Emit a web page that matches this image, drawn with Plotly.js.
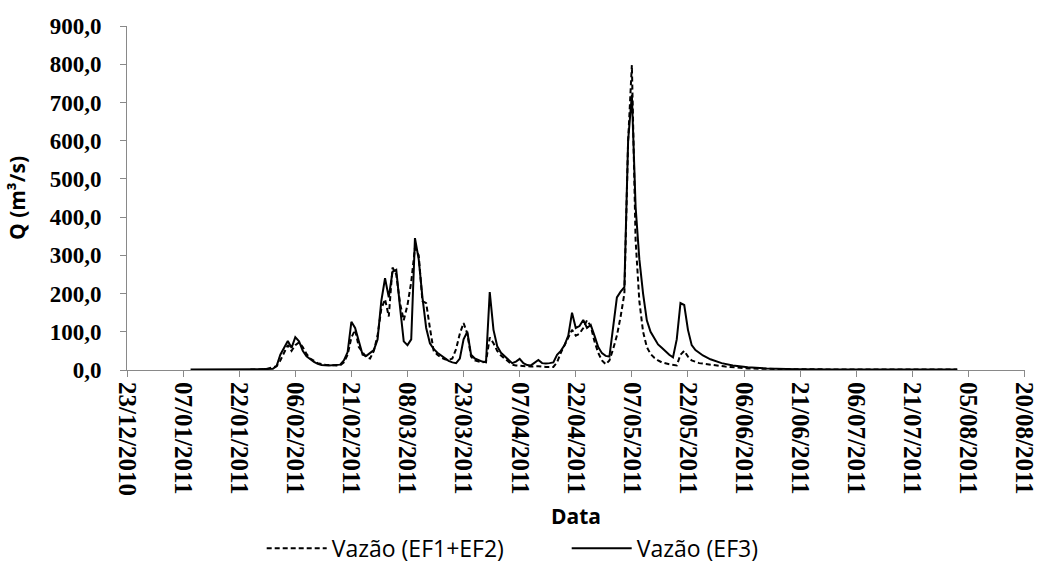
<!DOCTYPE html>
<html>
<head>
<meta charset="utf-8">
<script src="https://cdn.plot.ly/plotly-3.0.1.min.js"></script>
<style>html,body{margin:0;padding:0;background:#fff;}#chart{width:1039px;height:574px;}</style>
</head>
<body>
<div id="chart"></div>
<script>
// EF1+EF2 (dashed)
const datesA = ['2011-01-25','2011-01-29','2011-02-01','2011-02-02','2011-02-03','2011-02-04','2011-02-05','2011-02-06','2011-02-07','2011-02-08','2011-02-09','2011-02-10','2011-02-12','2011-02-14','2011-02-17','2011-02-18','2011-02-19','2011-02-20','2011-02-21','2011-02-22','2011-02-23','2011-02-24','2011-02-25','2011-02-26','2011-02-27','2011-02-28','2011-03-01','2011-03-02','2011-03-03','2011-03-04','2011-03-05','2011-03-06','2011-03-07','2011-03-08','2011-03-09','2011-03-10','2011-03-11','2011-03-12','2011-03-13','2011-03-14','2011-03-15','2011-03-16','2011-03-17','2011-03-18','2011-03-19','2011-03-20','2011-03-21','2011-03-22','2011-03-23','2011-03-24','2011-03-25','2011-03-26','2011-03-27','2011-03-28','2011-03-29','2011-03-30','2011-03-31','2011-04-01','2011-04-02','2011-04-03','2011-04-04','2011-04-05','2011-04-06','2011-04-07','2011-04-08','2011-04-09','2011-04-10','2011-04-12','2011-04-14','2011-04-16','2011-04-17','2011-04-18','2011-04-19','2011-04-20','2011-04-21','2011-04-22','2011-04-23','2011-04-24','2011-04-25','2011-04-26','2011-04-27','2011-04-28','2011-04-29','2011-04-30','2011-05-01','2011-05-02','2011-05-03','2011-05-04','2011-05-05','2011-05-06','2011-05-07','2011-05-08','2011-05-09','2011-05-10','2011-05-11','2011-05-12','2011-05-13','2011-05-14','2011-05-15','2011-05-17','2011-05-19','2011-05-20','2011-05-21','2011-05-22','2011-05-23','2011-05-25','2011-05-28','2011-06-01','2011-06-07','2011-06-20','2011-07-10','2011-08-02'];
const valuesA = [1,2,10,25,45,65,50,65,72,60,42,30,18,14,12,12,20,40,85,105,60,45,33,30,50,90,160,185,140,268,250,175,130,170,230,320,300,180,175,110,50,40,32,28,26,30,55,95,123,95,35,25,22,20,22,85,70,50,38,30,20,14,12,11,10,10,9,10,8,8,20,45,65,85,105,90,95,110,130,115,75,45,25,15,25,55,90,140,200,600,798,340,180,100,60,42,32,25,20,15,12,40,50,35,25,18,14,9,4,2,1,1];

// EF3 (solid)
const datesB = ['2011-01-09','2011-01-19','2011-01-27','2011-01-31','2011-02-01','2011-02-02','2011-02-04','2011-02-05','2011-02-06','2011-02-07','2011-02-08','2011-02-09','2011-02-11','2011-02-12','2011-02-13','2011-02-15','2011-02-17','2011-02-18','2011-02-19','2011-02-20','2011-02-21','2011-02-22','2011-02-23','2011-02-24','2011-02-25','2011-02-26','2011-02-27','2011-02-28','2011-03-01','2011-03-02','2011-03-03','2011-03-04','2011-03-05','2011-03-06','2011-03-07','2011-03-08','2011-03-09','2011-03-10','2011-03-11','2011-03-12','2011-03-13','2011-03-14','2011-03-15','2011-03-16','2011-03-17','2011-03-18','2011-03-19','2011-03-20','2011-03-21','2011-03-22','2011-03-23','2011-03-24','2011-03-25','2011-03-26','2011-03-27','2011-03-28','2011-03-29','2011-03-30','2011-03-31','2011-04-01','2011-04-02','2011-04-03','2011-04-04','2011-04-05','2011-04-06','2011-04-07','2011-04-08','2011-04-09','2011-04-10','2011-04-11','2011-04-12','2011-04-13','2011-04-14','2011-04-15','2011-04-16','2011-04-17','2011-04-18','2011-04-19','2011-04-20','2011-04-21','2011-04-22','2011-04-23','2011-04-24','2011-04-25','2011-04-26','2011-04-27','2011-04-28','2011-04-29','2011-04-30','2011-05-01','2011-05-02','2011-05-03','2011-05-04','2011-05-05','2011-05-06','2011-05-07','2011-05-08','2011-05-09','2011-05-10','2011-05-11','2011-05-12','2011-05-13','2011-05-14','2011-05-15','2011-05-16','2011-05-17','2011-05-18','2011-05-19','2011-05-20','2011-05-21','2011-05-22','2011-05-23','2011-05-24','2011-05-25','2011-05-26','2011-05-28','2011-05-31','2011-06-03','2011-06-07','2011-06-12','2011-06-20','2011-07-01','2011-07-15','2011-07-25','2011-07-28','2011-08-02'];
const valuesB = [1,1,2,3,10,40,76,58,86,75,50,36,21,16,13,12,13,14,25,47,126,110,75,40,37,45,52,80,180,240,190,257,262,165,75,65,80,345,290,190,110,70,55,45,38,30,24,20,18,30,80,100,40,30,25,22,20,204,105,62,45,36,28,18,22,29,18,13,12,18,26,18,17,18,20,40,50,65,90,150,110,115,131,110,118,90,60,44,37,35,110,190,205,217,600,720,427,290,200,130,100,82,67,58,48,40,33,80,175,170,105,65,52,44,38,28,18,12,7,4,2,1.5,1,2,1,1];

const yTicks = [0,100,200,300,400,500,600,700,800,900];

const axisGray = '#898989';
const traces = [
  {x: datesA, y: valuesA, type: 'scatter', mode: 'lines', name: 'Vazão (EF1+EF2)',
   line: {color: '#000', width: 2, dash: '5px,3px'}},
  {x: datesB, y: valuesB, type: 'scatter', mode: 'lines', name: 'Vazão (EF3)',
   line: {color: '#000', width: 2}}
];

const layout = {
  width: 1039, height: 574,
  margin: {l: 127, r: 14, t: 26, b: 204, autoexpand: false},
  paper_bgcolor: '#fff', plot_bgcolor: '#fff',
  separators: ',.',
  showlegend: true,
  legend: {orientation: 'h', x: 0.15, xanchor: 'left', y: -0.518, yanchor: 'middle',
           font: {family: 'Open Sans', size: 23, color: '#000'}, itemwidth: 60,
           entrywidth: 230, entrywidthmode: 'pixels'},
  xaxis: {
    type: 'date',
    range: ['2010-12-23', '2011-08-20 03:00'],
    tick0: '2010-12-23', dtick: 15 * 86400000,
    tickformat: '%d/%m/%Y', tickangle: 90,
    ticklabeloverflow: 'allow',
    showgrid: false, zeroline: false,
    showline: true, linecolor: axisGray, linewidth: 1,
    ticks: 'outside', ticklen: 6, tickcolor: axisGray,
    tickfont: {family: 'Liberation Serif', size: 25, color: '#000', weight: 'bold'},
    title: {text: 'Data', font: {family: 'Open Sans', size: 21, color: '#000', weight: 'bold'}, standoff: 14},
    automargin: false
  },
  yaxis: {
    range: [0, 900], tickvals: yTicks, tickformat: '.1f',
    showgrid: false, zeroline: false,
    showline: true, linecolor: axisGray, linewidth: 1,
    ticks: 'outside', ticklen: 6, tickcolor: axisGray,
    ticklabelstandoff: 14,
    tickfont: {family: 'Liberation Serif', size: 23, color: '#000', weight: 'bold'},
    title: {text: 'Q (m³/s)', font: {family: 'Open Sans', size: 21, color: '#000', weight: 'bold'}, standoff: 18},
    automargin: false
  }
};

Plotly.newPlot('chart', traces, layout, {staticPlot: true, displayModeBar: false});
</script>
</body>
</html>
